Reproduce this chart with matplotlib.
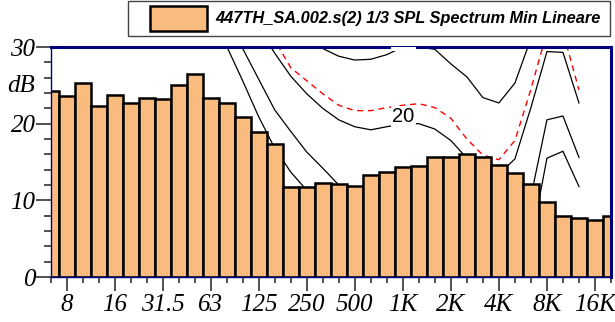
import numpy as np
import matplotlib
matplotlib.use('Agg')
import matplotlib.pyplot as plt
from matplotlib.patches import Rectangle
from matplotlib.font_manager import FontProperties, findfont

# 1/3 octave bands shown on the x axis (first and last are half cut by the frame)
bands = ['6.3', '8', '10', '12.5', '16', '20', '25', '31.5', '40', '50', '63', '80',
         '100', '125', '160', '200', '250', '315', '400', '500', '630', '800', '1K',
         '1.25K', '1.6K', '2K', '2.5K', '3.15K', '4K', '5K', '6.3K', '8K', '10K',
         '12.5K', '16K', '20K']
spl_min = [24.3, 23.6, 25.3, 22.3, 23.8, 22.7, 23.4, 23.2, 25.1, 26.5, 23.3, 22.7,
           20.9, 18.9, 17.4, 11.8, 11.7, 12.2, 12.1, 11.9, 13.3, 13.7, 14.3, 14.5,
           15.6, 15.6, 16.0, 15.6, 14.6, 13.6, 12.1, 9.8, 8.0, 7.7, 7.5, 8.0]
tick_labels = ['8', '16', '31.5', '63', '125', '250', '500', '1K', '2K', '4K', '8K', '16K']
y_ticks = [0, 10, 20, 30]

# equal loudness style curves, defined on bands 63 Hz .. 12.5 kHz
curve_bands = bands[10:34]
contour_0 = [35.0, 30.1, 25.6, 20.9, 16.8, 13.7, 11.3, 9.0, 7.5, 6.0, 5.0, 4.0,
             3.5, 3.5, 3.0, 1.0, -1.0, -2.0, -1.5, 1.0, 4.5, 15.5, 16.4, 11.8]
contour_10 = [40.0, 35.0, 29.8, 25.8, 21.8, 19.0, 16.3, 14.2, 12.0, 11.0, 10.5, 10.2,
              10.0, 10.0, 9.0, 7.0, 5.5, 5.0, 5.5, 7.5, 10.5, 20.5, 21.0, 15.6]
contour_20 = [45.0, 40.0, 36.0, 32.5, 29.2, 26.2, 23.9, 22.0, 20.5, 19.6, 19.2, 19.6,
              20.0, 20.0, 19.3, 17.8, 15.5, 14.2, 13.4, 15.4, 22.1, 29.4, 29.3, 22.7]
contour_30 = [55.0, 50.0, 46.0, 42.0, 38.0, 34.5, 31.5, 29.8, 28.8, 28.3, 28.4, 29.0,
              30.0, 30.0, 29.7, 27.8, 26.1, 23.4, 22.7, 25.3, 31.1, 38.0, 38.0, 31.0]
contour_spl = [46.0, 42.0, 38.0, 34.0, 30.9, 27.3, 25.6, 23.9, 22.4, 21.7, 21.7, 22.1,
               22.4, 22.6, 22.1, 20.7, 18.0, 15.9, 15.3, 17.8, 24.5, 32.0, 32.0, 24.4]

legend_label = '447TH_SA.002.s(2) 1/3 SPL Spectrum Min Lineare'
bar_color = '#F9BC7E'
navy = '#00007F'

# Times-like italic for the axis texts; fall back to DejaVu Serif if no italic face
tick_font = FontProperties(family='Liberation Serif', style='italic', size=18)
if 'italic' not in findfont(tick_font).lower():
    tick_font = FontProperties(family='DejaVu Serif', style='italic', size=14.5)

W, H = 615, 322
fig = plt.figure(figsize=(W / 100, H / 100), dpi=100)
ax = fig.add_axes([50.5 / W, 45 / H, 560.5 / W, 230 / H])

x = np.arange(len(bands))
ax.bar(x, spl_min, width=1.0, color=bar_color, edgecolor='black', linewidth=1.8, zorder=1)

cx = np.arange(10, 10 + len(curve_bands))
for curve in [contour_0, contour_10, contour_20, contour_30]:
    ax.plot(cx, curve, color='black', linewidth=0.9, zorder=0.5)
ax.plot(cx, contour_spl, color='red', linewidth=1.0, dashes=(4.3, 3.4), zorder=0.5)

# curve labels (the "30" one is mostly cut off by the frame)
i1k = bands.index('1K')
for lev in [20, 30]:
    ax.text(i1k + 0.05, lev + 0.9, str(lev), ha='center', va='center', fontsize=14.5,
            family='Liberation Sans', color='black', zorder=3, clip_on=True,
            bbox=dict(facecolor='white', edgecolor='none', pad=1.0))

ax.set_xlim(0, len(bands) - 1)
ax.set_ylim(0, 30)

ax.set_xticks(x[1::3])
ax.set_xticklabels(tick_labels, fontproperties=tick_font)
ax.set_xticks(x, minor=True)
ax.set_yticks(y_ticks)
ax.set_yticklabels([str(v) for v in y_ticks], fontproperties=tick_font)
ax.set_yticks(np.arange(0, 31, 2), minor=True)

ax.tick_params(axis='x', which='major', length=10, width=1.2, color='#333333', pad=2.5)
ax.tick_params(axis='x', which='minor', length=4.3, width=1.2, color='#333333')
ax.tick_params(axis='y', which='major', length=10.8, width=1.2, color='#333333', pad=0)
ax.tick_params(axis='y', which='minor', length=5, width=1.2, color='#333333')

for side in ['top', 'right']:
    ax.spines[side].set_color(navy)
    ax.spines[side].set_linewidth(2.2)
for side in ['left', 'bottom']:
    ax.spines[side].set_color(navy)
    ax.spines[side].set_linewidth(1.0)

fig.text(21 / W, 1 - 86 / H, 'dB', ha='center', va='center', fontproperties=tick_font)

# legend box drawn at the top of the figure
fig.add_artist(Rectangle((128 / W, 1 - 36 / H), (610 - 128) / W, 35 / H,
                         transform=fig.transFigure, fill=False, edgecolor='#444444', linewidth=1.0))
fig.add_artist(Rectangle((150 / W, 1 - 31 / H), 57 / W, 25 / H, transform=fig.transFigure,
                         facecolor=bar_color, edgecolor='black', linewidth=1.8))
fig.text(601 / W, 1 - 18.5 / H, legend_label, ha='right', va='center', fontsize=11.8,
         family='Liberation Sans', weight='bold', style='italic')

fig.savefig('out.png', dpi=100)
